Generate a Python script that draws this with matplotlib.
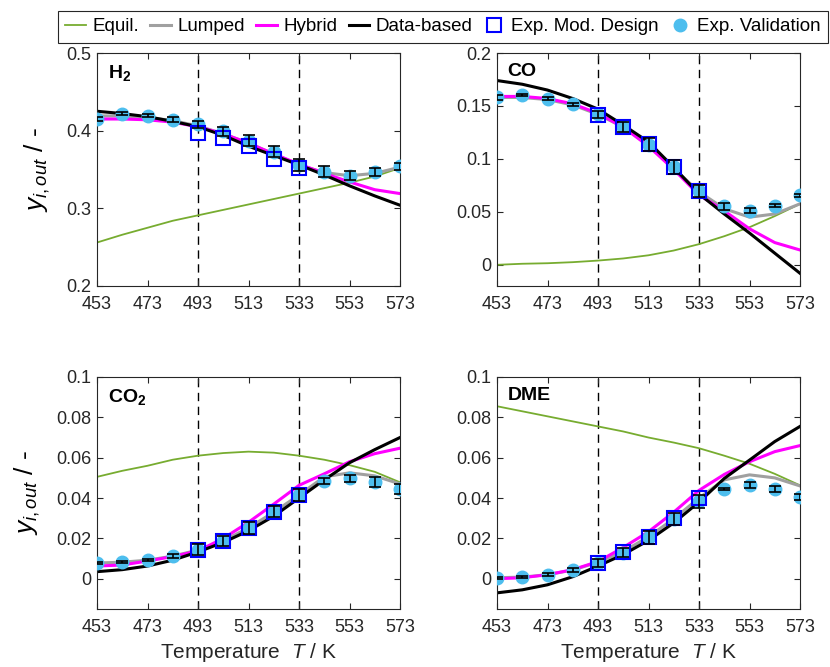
import matplotlib
matplotlib.use("Agg")
import matplotlib.pyplot as plt
from matplotlib.ticker import FuncFormatter
from matplotlib.lines import Line2D

plt.rcParams['font.family'] = ['Liberation Sans', 'DejaVu Sans']
plt.rcParams['mathtext.fontset'] = 'custom'
plt.rcParams['mathtext.rm'] = 'Liberation Sans'
plt.rcParams['mathtext.it'] = 'Liberation Sans:italic'
plt.rcParams['mathtext.bf'] = 'Liberation Sans:bold'

# Temperaturen (K)
T = [453, 463, 473, 483, 493, 503, 513, 523, 533, 543, 553, 563, 573]
T_mod = [493, 503, 513, 523, 533]

# H2
h2_equil = [0.256, 0.266, 0.275, 0.284, 0.291, 0.298, 0.305, 0.312, 0.319, 0.326, 0.333, 0.341, 0.352]
h2_lumped = [0.419, 0.419, 0.417, 0.413, 0.406, 0.396, 0.384, 0.370, 0.356, 0.346, 0.342, 0.345, 0.353]
h2_hybrid = [0.415, 0.415, 0.414, 0.411, 0.405, 0.396, 0.384, 0.370, 0.357, 0.345, 0.334, 0.324, 0.319]
h2_data = [0.425, 0.422, 0.418, 0.412, 0.405, 0.394, 0.380, 0.368, 0.356, 0.343, 0.329, 0.316, 0.304]
h2_val = [0.415, 0.422, 0.419, 0.414, 0.408, 0.399, 0.387, 0.373, 0.356, 0.347, 0.342, 0.347, 0.354]
h2_err = [0.003, 0.002, 0.002, 0.003, 0.005, 0.006, 0.007, 0.007, 0.008, 0.007, 0.006, 0.005, 0.004]
h2_mod = [0.397, 0.390, 0.380, 0.364, 0.352]

# CO
co_equil = [0.000, 0.001, 0.0015, 0.0025, 0.004, 0.006, 0.009, 0.0135, 0.0195, 0.027, 0.0355, 0.046, 0.0575]
co_lumped = [0.158, 0.158, 0.156, 0.151, 0.142, 0.130, 0.113, 0.091, 0.069, 0.053, 0.045, 0.048, 0.0576]
co_hybrid = [0.159, 0.159, 0.157, 0.152, 0.143, 0.130, 0.112, 0.090, 0.066, 0.051, 0.034, 0.021, 0.014]
co_data = [0.174, 0.1705, 0.165, 0.157, 0.147, 0.132, 0.116, 0.092, 0.067, 0.048, 0.030, 0.011, -0.008]
co_val = [0.158, 0.160, 0.157, 0.1515, 0.142, 0.130, 0.1135, 0.092, 0.070, 0.0553, 0.0512, 0.056, 0.0655]
co_err = [0.002, 0.001, 0.001, 0.0015, 0.003, 0.0045, 0.006, 0.0065, 0.0055, 0.0035, 0.002, 0.001, 0.001]
co_mod = [0.141, 0.130, 0.114, 0.092, 0.070]

# CO2
co2_equil = [0.0505, 0.0535, 0.056, 0.059, 0.061, 0.0623, 0.063, 0.0625, 0.061, 0.059, 0.0563, 0.053, 0.0478]
co2_lumped = [0.0078, 0.0082, 0.0092, 0.0112, 0.0142, 0.0188, 0.0252, 0.0330, 0.0415, 0.0505, 0.0525, 0.051, 0.047]
co2_hybrid = [0.0063, 0.0068, 0.0088, 0.011, 0.0138, 0.020, 0.028, 0.037, 0.0463, 0.052, 0.058, 0.062, 0.0647]
co2_data = [0.0035, 0.0045, 0.0063, 0.0092, 0.0133, 0.018, 0.0238, 0.031, 0.040, 0.049, 0.0575, 0.064, 0.070]
co2_val = [0.0077, 0.0083, 0.0093, 0.0113, 0.0143, 0.0188, 0.0253, 0.0333, 0.0416, 0.0483, 0.0497, 0.048, 0.0447]
co2_err = [0.0005, 0.0005, 0.0005, 0.0008, 0.0027, 0.0025, 0.0029, 0.0027, 0.003, 0.0015, 0.0018, 0.0023, 0.0025]
co2_mod = [0.0143, 0.0188, 0.0253, 0.0333, 0.0416]

# DME
dme_equil = [0.0855, 0.083, 0.0805, 0.078, 0.0755, 0.073, 0.070, 0.0675, 0.0647, 0.061, 0.057, 0.052, 0.0463]
dme_lumped = [0.0005, 0.0008, 0.002, 0.0043, 0.0082, 0.0135, 0.0208, 0.0297, 0.0400, 0.049, 0.0515, 0.050, 0.046]
dme_hybrid = [0.0, 0.0005, 0.002, 0.0045, 0.0085, 0.0155, 0.0233, 0.033, 0.0438, 0.0517, 0.058, 0.063, 0.066]
dme_data = [-0.007, -0.0055, -0.003, 0.001, 0.0063, 0.012, 0.019, 0.0277, 0.038, 0.0497, 0.0588, 0.068, 0.0755]
dme_val = [0.0005, 0.0008, 0.002, 0.0043, 0.008, 0.013, 0.0205, 0.0297, 0.0383, 0.0447, 0.0463, 0.0447, 0.0405]
dme_err = [0.0005, 0.0005, 0.0008, 0.001, 0.002, 0.0022, 0.0033, 0.003, 0.003, 0.0005, 0.0015, 0.0015, 0.0015]
dme_mod = [0.008, 0.0135, 0.0208, 0.030, 0.040]

c_equil = '#77AC30'
c_lumped = '#A0A0A0'
c_hybrid = '#FF00FF'
c_val = '#4DBEEE'
c_mod = '#0000FF'
c_ax = '#262626'

panels = [
    (r'$\mathbf{H_2}$', h2_equil, h2_lumped, h2_hybrid, h2_data, h2_val, h2_err, h2_mod,
     (0.2, 0.5), [0.2, 0.3, 0.4, 0.5]),
    ('CO', co_equil, co_lumped, co_hybrid, co_data, co_val, co_err, co_mod,
     (-0.02, 0.2), [0, 0.05, 0.1, 0.15, 0.2]),
    (r'$\mathbf{CO_2}$', co2_equil, co2_lumped, co2_hybrid, co2_data, co2_val, co2_err, co2_mod,
     (-0.015, 0.1), [0, 0.02, 0.04, 0.06, 0.08, 0.1]),
    ('DME', dme_equil, dme_lumped, dme_hybrid, dme_data, dme_val, dme_err, dme_mod,
     (-0.015, 0.1), [0, 0.02, 0.04, 0.06, 0.08, 0.1]),
]

# Achsenpositionen in Bildkoordinaten
W, H = 830, 667
boxes = [(97, 53, 303, 233), (497, 53, 303, 233), (97, 377, 303, 232), (497, 377, 303, 232)]

fig = plt.figure(figsize=(8.3, 6.67), dpi=100)

for i, (name, eq, lu, hy, da, val, err, mod, ylim, yt) in enumerate(panels):
    x0, y0, w, h = boxes[i]
    ax = fig.add_axes([x0 / W, 1 - (y0 + h) / H, w / W, h / H])

    ax.axvline(493, color='k', lw=1, ls=(0, (6, 4)), zorder=1)
    ax.axvline(533, color='k', lw=1, ls=(0, (6, 4)), zorder=1)

    ax.plot(T, eq, color=c_equil, lw=1.3, zorder=2)
    ax.plot(T, lu, color=c_lumped, lw=2.2, zorder=2)
    ax.plot(T, hy, color=c_hybrid, lw=2.2, zorder=2)
    ax.plot(T, da, color='k', lw=2.2, zorder=2)
    ax.plot(T, val, 'o', color=c_val, ms=9, mec=c_val, zorder=3)
    ax.plot(T_mod, mod, 's', mfc='none', mec=c_mod, ms=10, mew=1.5, zorder=4)
    ax.errorbar(T, val, yerr=err, fmt='none', ecolor='k', elinewidth=1.2,
                capsize=4.5, capthick=1.2, zorder=5)

    ax.set_xlim(453, 573)
    ax.set_ylim(*ylim)
    ax.set_xticks([453, 473, 493, 513, 533, 553, 573])
    ax.set_yticks(yt)
    ax.yaxis.set_major_formatter(FuncFormatter(lambda v, p: '%g' % v))
    ax.tick_params(direction='in', top=True, right=True, length=4, width=0.8,
                   labelsize=13, colors=c_ax, labelcolor=c_ax)
    ax.tick_params(axis='x', pad=7)
    ax.tick_params(axis='y', pad=4)
    for s in ax.spines.values():
        s.set_color(c_ax)
        s.set_linewidth(0.8)

    ax.text(0.035, 0.955, name, transform=ax.transAxes, ha='left', va='top',
            fontsize=14, fontweight='bold')

    if i % 2 == 0:
        ax.set_ylabel(r'$y_{i,out}$ / -', fontsize=19, color='k')
        ax.yaxis.set_label_coords(-0.15 if i == 0 else -0.18, 0.5)
    if i >= 2:
        ax.set_xlabel(r'Temperature  $T$ / K', fontsize=15, color=c_ax, labelpad=4)

# Legende oben
handles = [
    Line2D([], [], color=c_equil, lw=1.3),
    Line2D([], [], color=c_lumped, lw=2.2),
    Line2D([], [], color=c_hybrid, lw=2.2),
    Line2D([], [], color='k', lw=2.2),
    Line2D([], [], ls='none', marker='s', mfc='none', mec=c_mod, ms=10, mew=1.5),
    Line2D([], [], ls='none', marker='o', color=c_val, ms=9),
]
labels = ['Equil.', 'Lumped', 'Hybrid', 'Data-based', 'Exp. Mod. Design', 'Exp. Validation']
leg = fig.legend(handles, labels, loc='upper right', bbox_to_anchor=(0.998, 0.984), ncol=6,
                 fontsize=13.5, frameon=True, fancybox=False, framealpha=1,
                 edgecolor=c_ax, handlelength=1.1, handletextpad=0.35, columnspacing=0.6,
                 borderpad=0.4, borderaxespad=0)
leg.get_frame().set_linewidth(0.8)

fig.savefig('out.png', dpi=100)
